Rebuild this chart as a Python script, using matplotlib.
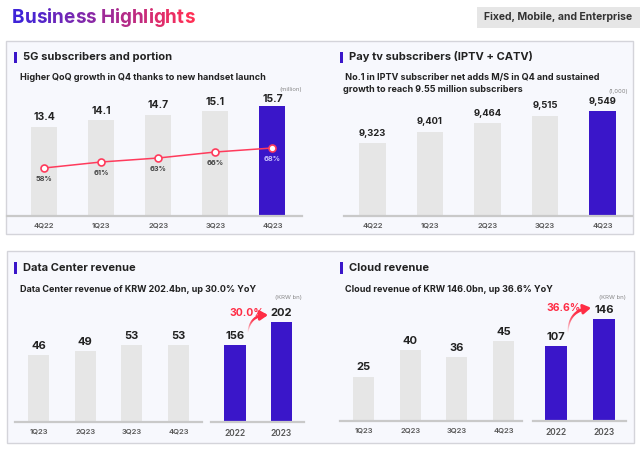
import matplotlib
matplotlib.use("Agg")
import matplotlib.pyplot as plt
from matplotlib.patches import Rectangle
from matplotlib.collections import LineCollection
import matplotlib.colors as mcolors
import numpy as np

# ---------------- data ----------------
q5g = ["4Q22", "1Q23", "2Q23", "3Q23", "4Q23"]
subs5g = [13.4, 14.1, 14.7, 15.1, 15.7]
portion5g = [58, 61, 63, 66, 68]

qtv = ["4Q22", "1Q23", "2Q23", "3Q23", "4Q23"]
paytv = [9323, 9401, 9464, 9515, 9549]

q_dc = ["1Q23", "2Q23", "3Q23", "4Q23"]
dc_q = [46, 49, 53, 53]
y_dc = ["2022", "2023"]
dc_y = [156, 202]
dc_growth = "30.0%"

q_cl = ["1Q23", "2Q23", "3Q23", "4Q23"]
cl_q = [25, 40, 36, 45]
y_cl = ["2022", "2023"]
cl_y = [107, 146]
cl_growth = "36.6%"

# ---------------- style ----------------
FONT = "Inter"
plt.rcParams["font.family"] = [FONT, "DejaVu Sans"]
GRAY_BAR = "#e6e6e6"
PURPLE = "#3a16c9"
RED = "#ff3b5c"
DARK = "#222222"
W, H = 640, 453

fig = plt.figure(figsize=(W / 100, H / 100), dpi=100)
fig.patch.set_facecolor("white")


def fx(x):
    return x / W


def fy(y):
    return 1 - y / H


def px_axes(l, t, r, b):
    a = fig.add_axes([l / W, 1 - b / H, (r - l) / W, (b - t) / H])
    a.set_zorder(3)
    return a


def ftext(x, y, s, **kw):
    return fig.text(fx(x), fy(y), s, **kw)


def box(l, t, r, b):
    fig.patches.append(Rectangle((fx(l), fy(b)), (r - l) / W, (b - t) / H,
                                 transform=fig.transFigure, facecolor="#f7f8fd",
                                 edgecolor="#d4d4da", lw=1.0, zorder=-2))


def marker(l, t, r, b):
    fig.patches.append(Rectangle((fx(l), fy(b)), (r - l) / W, (b - t) / H,
                                 transform=fig.transFigure, facecolor=PURPLE,
                                 edgecolor="none", zorder=-1))


# ---------------- header ----------------
title = "Business Highlights"
c0 = np.array(mcolors.to_rgb("#3f24d8"))
c1 = np.array(mcolors.to_rgb("#ff2f55"))
renderer = fig.canvas.get_renderer()
tkw = dict(fontsize=13.6, fontweight="bold", va="center", ha="left")
x0 = 12
n = len(title)
for i, ch in enumerate(title):
    if ch == " ":
        continue
    tmp = fig.text(0, 0, title[:i + 1], **tkw)
    wfull = tmp.get_window_extent(renderer).width
    tmp.remove()
    tmp = fig.text(0, 0, ch, **tkw)
    wch = tmp.get_window_extent(renderer).width
    tmp.remove()
    t = i / (n - 1)
    col = c0 * (1 - t) + c1 * t
    ftext(x0 + wfull - wch, 18, ch, color=col, **tkw)

fig.patches.append(Rectangle((fx(477), fy(28)), 163 / W, 21 / H,
                             transform=fig.transFigure, facecolor="#e6e6e6",
                             edgecolor="none", zorder=-2))
ftext(558, 17.5, "Fixed, Mobile, and Enterprise", fontsize=7.5, fontweight="bold",
      color="#333333", ha="center", va="center")

# ---------------- panels ----------------
box(6, 41, 633, 234)
box(7, 251, 634, 443)

marker(14, 52, 17, 63)
marker(340, 52, 343, 63)
marker(14, 262, 17, 274)
marker(340, 262, 343, 274)

TK = dict(fontsize=8.0, fontweight="bold", color=DARK, ha="left", va="center")
SK = dict(fontsize=6.5, fontweight="bold", color=DARK, ha="left", va="center")
UK = dict(fontsize=4.3, color="#888888", ha="right", va="center")

ftext(23, 57, "5G subscribers and portion", **TK)
ftext(20, 77, "Higher QoQ growth in Q4 thanks to new handset launch", **SK)
ftext(302, 90, "(million)", **UK)

ftext(349, 57, "Pay tv subscribers (IPTV + CATV)", **TK)
ftext(343, 83.5, " No.1 in IPTV subscriber net adds M/S in Q4 and sustained\ngrowth to reach 9.55 million subscribers",
      linespacing=1.45, **SK)
ftext(628, 92, "(1,000)", **UK)

ftext(23, 268, "Data Center revenue", **TK)
ftext(20, 290, "Data Center revenue of KRW 202.4bn, up 30.0% YoY", **SK)
ftext(302, 297, "(KRW bn)", **UK)

ftext(349, 268, "Cloud revenue", **TK)
ftext(345, 290, "Cloud revenue of KRW 146.0bn, up 36.6% YoY", **SK)
ftext(626, 297, "(KRW bn)", **UK)


def setup(ax, labels, xlim, base, pxper, heightpx, pad=4.5):
    ax.set_facecolor("none")
    for s in ["top", "left", "right"]:
        ax.spines[s].set_visible(False)
    ax.spines["bottom"].set_color("#c9c9c9")
    ax.spines["bottom"].set_linewidth(1.6)
    ax.set_xlim(*xlim)
    ax.set_ylim(base, base + heightpx / pxper)
    ax.set_xticks(range(len(labels)))
    ax.set_xticklabels(labels, fontsize=5.5, color="#555555", fontweight="semibold")
    ax.tick_params(axis="x", length=0, pad=pad)
    ax.set_yticks([])


def bars(ax, vals, width, colors, fmt, fs=7.5, offs=None):
    ax.bar(range(len(vals)), vals, width=width, color=colors, zorder=2)
    for i, v in enumerate(vals):
        off = 3 if offs is None else offs[i]
        ax.annotate(fmt(v), (i, v), xytext=(0, off), textcoords="offset points",
                    ha="center", va="bottom", fontsize=fs, fontweight="bold", color=DARK)


# 5G
ax = px_axes(7, 95, 302, 216)
setup(ax, q5g, (-0.648, 4.518), 3.6, 9.13, 121)
bars(ax, subs5g, 0.455, [GRAY_BAR] * 4 + [PURPLE], lambda v: f"{v:.1f}",
     offs=[3, 3, 3, 3, 1])
ax2 = ax.twinx()
ax2.set_zorder(4)
ax2.set_ylim(34, 94.5)
ax2.axis("off")
ax2.plot(range(len(portion5g)), portion5g, color=RED, lw=1.1, marker="o", ms=5,
         mfc="white", mec=RED, mew=1.2, zorder=3)
for i, p in enumerate(portion5g):
    ax2.annotate(f"{p}%", (i, p), xytext=(0, -6), textcoords="offset points",
                 ha="center", va="top", fontsize=5.3, fontweight="bold",
                 color="#c9c2ff" if i == len(portion5g) - 1 else "#444444")

# Pay TV
ax = px_axes(344, 95, 632, 216)
setup(ax, qtv, (-0.496, 4.513), 8808, 0.1416, 121)
bars(ax, paytv, 0.455, [GRAY_BAR] * 4 + [PURPLE], lambda v: f"{v:,}", fs=6.8,
     offs=[4] * 5)


def growth(ax, vals, label, lx, ly, sx, sy, ex, ey, rad=-0.45):
    # offsets (ly, sy, ey) are in pixels above the bar tops
    td = ax.transData
    p0 = td.transform((sx, vals[0])) + np.array([0, sy])
    p1 = td.transform((ex, vals[1])) + np.array([0, ey])
    mid = (p0 + p1) / 2
    d = p1 - p0
    ctrl = mid + rad * np.array([d[1], -d[0]])
    t = np.linspace(0, 1, 40)[:, None]
    pts = (1 - t) ** 2 * p0 + 2 * (1 - t) * t * ctrl + t ** 2 * p1
    dpts = td.inverted().transform(pts)
    segs = np.stack([dpts[:-4][:-1], dpts[:-4][1:]], axis=1)
    base = np.array(mcolors.to_rgb("#ff2d45"))
    cols = [(*base, a) for a in np.linspace(0.05, 1, len(segs))]
    lws = np.linspace(0.8, 2.2, len(segs))
    ax.add_collection(LineCollection(segs, colors=cols, linewidths=lws,
                                     capstyle="round", zorder=4))
    ax.annotate("", xy=tuple(dpts[-1]), xytext=tuple(dpts[-7]),
                arrowprops=dict(arrowstyle="-|>,head_length=0.45,head_width=0.28",
                                color="#ff2d45", lw=2.0, shrinkA=0, shrinkB=0),
                zorder=5)
    pl = td.transform((lx, vals[1])) + np.array([0, ly])
    ax.text(*td.inverted().transform(pl), label, ha="center", va="center",
            fontsize=7.5, fontweight="bold", color="#ff2d45")


# Data center
ax = px_axes(15, 300, 202, 422)
setup(ax, q_dc, (-0.504, 3.503), 0, 1.45, 122, pad=5)
bars(ax, dc_q, 0.45, GRAY_BAR, lambda v: f"{v}", fs=8)
ax = px_axes(211, 300, 304, 422)
setup(ax, y_dc, (-0.516, 1.484), 0, 0.495, 122, pad=5)
ax.tick_params(axis="x", labelsize=6)
bars(ax, dc_y, 0.47, PURPLE, lambda v: f"{v}", fs=8)
growth(ax, dc_y, dc_growth, 0.26, 9, 0.28, 13, 0.71, 7)

# Cloud
ax = px_axes(340, 300, 522, 421)
setup(ax, q_cl, (-0.504, 3.396), 0, 1.78, 121, pad=5)
bars(ax, cl_q, 0.45, GRAY_BAR, lambda v: f"{v}", fs=8)
ax = px_axes(533, 300, 626, 421)
setup(ax, y_cl, (-0.479, 1.458), 0, 0.70, 121, pad=5)
ax.tick_params(axis="x", labelsize=6)
bars(ax, cl_y, 0.46, PURPLE, lambda v: f"{v}", fs=8)
growth(ax, cl_y, cl_growth, 0.17, 11, 0.25, 14, 0.73, 11)

fig.savefig("out.png", dpi=100, facecolor="white")
